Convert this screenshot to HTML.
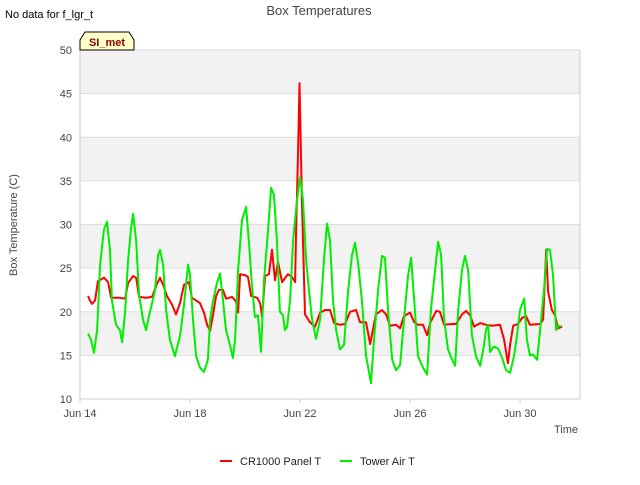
<!DOCTYPE html>
<html><head><meta charset="utf-8"><style>
body{margin:0;background:#fff;font-family:"Liberation Sans","DejaVu Sans",sans-serif}
svg text{font-family:"Liberation Sans","DejaVu Sans",sans-serif}
</style></head><body>
<svg id="c" width="640" height="480">
<text x="5" y="18" font-size="11" fill="#000">No data for f_lgr_t</text>
<text x="319" y="15" font-size="13" fill="#444" text-anchor="middle">Box Temperatures</text>
<g id="plot"></g>
<path d="M80,50 L80,40 L85,32 L129,32 L134,40 L134,50 Z" fill="#ffffcc" stroke="#000" stroke-width="1"/>
<text x="107" y="46" font-size="11" font-weight="bold" fill="#8b0000" text-anchor="middle">SI_met</text>
<text transform="translate(17,225) rotate(-90)" font-size="11" fill="#444" text-anchor="middle">Box Temperature (C)</text>
<text x="578" y="433" font-size="11" fill="#444" text-anchor="end">Time</text>
<g>
<line x1="220" y1="461" x2="232" y2="461" stroke="#ff0000" stroke-width="2"/>
<text x="240" y="465" font-size="11" fill="#222">CR1000 Panel T</text>
<line x1="340" y1="461" x2="352" y2="461" stroke="#00ee00" stroke-width="2"/>
<text x="360" y="465" font-size="11" fill="#222">Tower Air T</text>
</g>
</svg>
<script>
const xTickLabels=["Jun 14","Jun 18","Jun 22","Jun 26","Jun 30"];
const xTickDays=[0,4,8,12,16];
const yTicks=[10,15,20,25,30,35,40,45,50];
const redDays=[0.29,0.36,0.44,0.55,0.65,0.87,1.02,1.13,1.31,1.45,1.64,1.75,1.93,2.04,2.15,2.4,2.62,2.8,2.91,3.02,3.16,3.35,3.49,3.64,3.78,3.96,4.07,4.36,4.51,4.62,4.73,4.84,4.95,5.05,5.2,5.31,5.53,5.67,5.75,5.82,6.0,6.11,6.22,6.44,6.55,6.62,6.73,6.87,6.98,7.09,7.2,7.35,7.56,7.71,7.82,7.85,7.93,7.98,8.07,8.18,8.36,8.55,8.73,8.91,9.09,9.24,9.45,9.64,9.82,10.04,10.18,10.4,10.55,10.65,10.76,10.98,11.13,11.27,11.49,11.64,11.78,12.0,12.15,12.29,12.47,12.62,12.73,12.95,13.09,13.24,13.53,13.67,13.89,14.04,14.18,14.33,14.55,14.76,14.98,15.27,15.42,15.56,15.64,15.75,15.93,16.07,16.22,16.36,16.73,16.84,16.95,17.02,17.16,17.27,17.38,17.53];
const redVals=[21.8,21.3,20.9,21.3,23.5,23.9,23.4,21.6,21.6,21.6,21.5,23.3,24.1,23.9,21.7,21.6,21.7,23.2,23.9,23.1,21.8,20.8,19.7,21.0,23.1,23.4,21.6,21.0,19.9,18.5,17.8,19.7,21.8,22.5,22.5,21.5,21.7,21.2,19.9,24.3,24.2,24.0,21.8,21.6,21.0,19.4,24.1,24.3,27.1,23.6,25.7,23.4,24.3,24.0,23.4,28.2,38.5,46.2,32.8,19.7,18.8,18.3,19.9,20.2,20.2,18.7,18.5,18.6,20.0,20.2,18.8,18.8,16.3,17.9,19.7,20.2,19.7,18.4,18.5,18.1,19.5,19.9,18.8,18.5,18.5,17.3,18.7,20.1,20.0,18.5,18.6,18.6,19.7,20.1,19.6,18.3,18.7,18.5,18.4,18.5,16.8,14.1,16.2,18.4,18.6,19.3,19.5,18.5,18.6,19.1,27.1,22.3,20.2,19.6,18.1,18.3];
const greenDays=[0.29,0.4,0.51,0.62,0.73,0.87,0.98,1.09,1.16,1.31,1.45,1.53,1.64,1.75,1.85,1.93,2.04,2.15,2.29,2.4,2.51,2.62,2.73,2.84,2.91,3.02,3.13,3.27,3.45,3.64,3.78,3.93,4.0,4.11,4.22,4.36,4.51,4.65,4.73,4.84,4.98,5.09,5.2,5.31,5.45,5.56,5.64,5.75,5.89,6.04,6.15,6.25,6.36,6.47,6.58,6.69,6.84,6.95,7.05,7.16,7.27,7.38,7.45,7.53,7.64,7.75,7.89,8.0,8.11,8.22,8.33,8.44,8.58,8.73,8.87,8.98,9.09,9.2,9.31,9.45,9.6,9.75,9.89,10.0,10.11,10.25,10.4,10.58,10.69,10.84,10.98,11.09,11.2,11.35,11.49,11.64,11.78,11.93,12.04,12.15,12.29,12.47,12.62,12.76,12.91,13.02,13.13,13.24,13.38,13.53,13.64,13.75,13.89,14.0,14.11,14.25,14.4,14.55,14.69,14.76,14.84,14.91,15.05,15.2,15.35,15.49,15.64,15.78,15.89,16.0,16.15,16.25,16.36,16.47,16.62,16.73,16.87,16.98,17.09,17.2,17.31,17.38,17.49];
const greenVals=[17.5,16.8,15.3,17.9,25.4,29.4,30.3,27.1,21.3,18.5,17.9,16.5,20.0,25.9,29.4,31.2,28.2,21.9,19.1,17.9,19.5,21.0,22.5,26.5,27.1,25.4,20.2,16.8,14.9,17.3,20.8,25.4,24.2,19.1,14.9,13.6,13.1,14.5,19.1,21.3,23.3,24.4,21.3,17.9,16.2,14.7,16.8,24.8,30.5,32.0,27.7,23.1,19.4,19.6,15.4,23.6,29.4,34.2,33.4,28.2,20.0,19.6,17.9,18.3,21.3,28.2,32.8,35.4,32.8,25.9,22.3,19.1,16.9,19.1,25.9,30.1,28.2,21.3,17.9,15.7,16.2,22.5,26.5,27.9,25.6,21.3,15.0,11.8,16.8,22.5,26.4,26.2,20.2,14.5,13.3,13.9,19.1,24.2,26.2,21.3,14.9,13.6,12.8,20.2,24.8,28.0,26.5,19.1,15.7,14.5,13.8,20.2,24.8,26.4,24.8,17.3,14.9,13.8,16.2,17.9,18.5,15.4,16.0,15.8,14.7,13.3,13.0,14.9,17.3,20.2,21.5,16.8,15.0,15.1,14.5,17.9,22.5,27.2,27.1,24.2,17.9,18.4,18.3];

const L=80,R=580,T=50,B=399,D0=0,D1=18.18;
const xs=d=>L+(d-D0)/(D1-D0)*(R-L);
const ys=v=>B-(v-10)/40*(B-T);
const NS='http://www.w3.org/2000/svg';
const g=document.getElementById('plot');
function mk(tag,attrs){const e=document.createElementNS(NS,tag);for(const k in attrs)e.setAttribute(k,attrs[k]);g.appendChild(e);return e;}
mk('rect',{x:L,y:T,width:R-L,height:B-T,fill:'#fff'});
for(let i=0;i<yTicks.length-1;i++){
  if(i%2===1){const b=mk('rect',{x:L,y:ys(yTicks[i+1]),width:R-L,height:ys(yTicks[i])-ys(yTicks[i+1]),fill:'#f2f2f2'});
  
  }
}
yTicks.forEach(v=>{
  const l=mk('line',{x1:L,x2:R,y1:ys(v),y2:ys(v),stroke:'#dddddd','stroke-width':1});
  
  
  const t=mk('text',{x:L-8,y:ys(v)+4,'font-size':11,fill:'#444','text-anchor':'end'});
  t.textContent=v;
  
  
});
xTickDays.forEach((d,i)=>{
  const t=mk('text',{x:xs(d),y:B+18,'font-size':11,fill:'#444','text-anchor':'middle'});
  t.textContent=xTickLabels[i];
  
  
  const k=mk('line',{x1:xs(d),x2:xs(d),y1:B,y2:B+4,stroke:'#ccc'});
  
  
});
const ax=mk('path',{d:`M${L},${T} L${L},${B} L${R},${B} L${R},${T}`,fill:'none',stroke:'#cccccc'});


function series(days,vals,color,name){
  const p=mk('polyline',{points:days.map((d,i)=>xs(d).toFixed(1)+','+ys(vals[i]).toFixed(1)).join(' '),fill:'none',stroke:color,'stroke-width':2,'stroke-linejoin':'round'});
  
  
}
series(redDays,redVals,'#ff0000','cr1000-panel-t-line');
series(greenDays,greenVals,'#00ee00','tower-air-t-line');
</script>
</body></html>
